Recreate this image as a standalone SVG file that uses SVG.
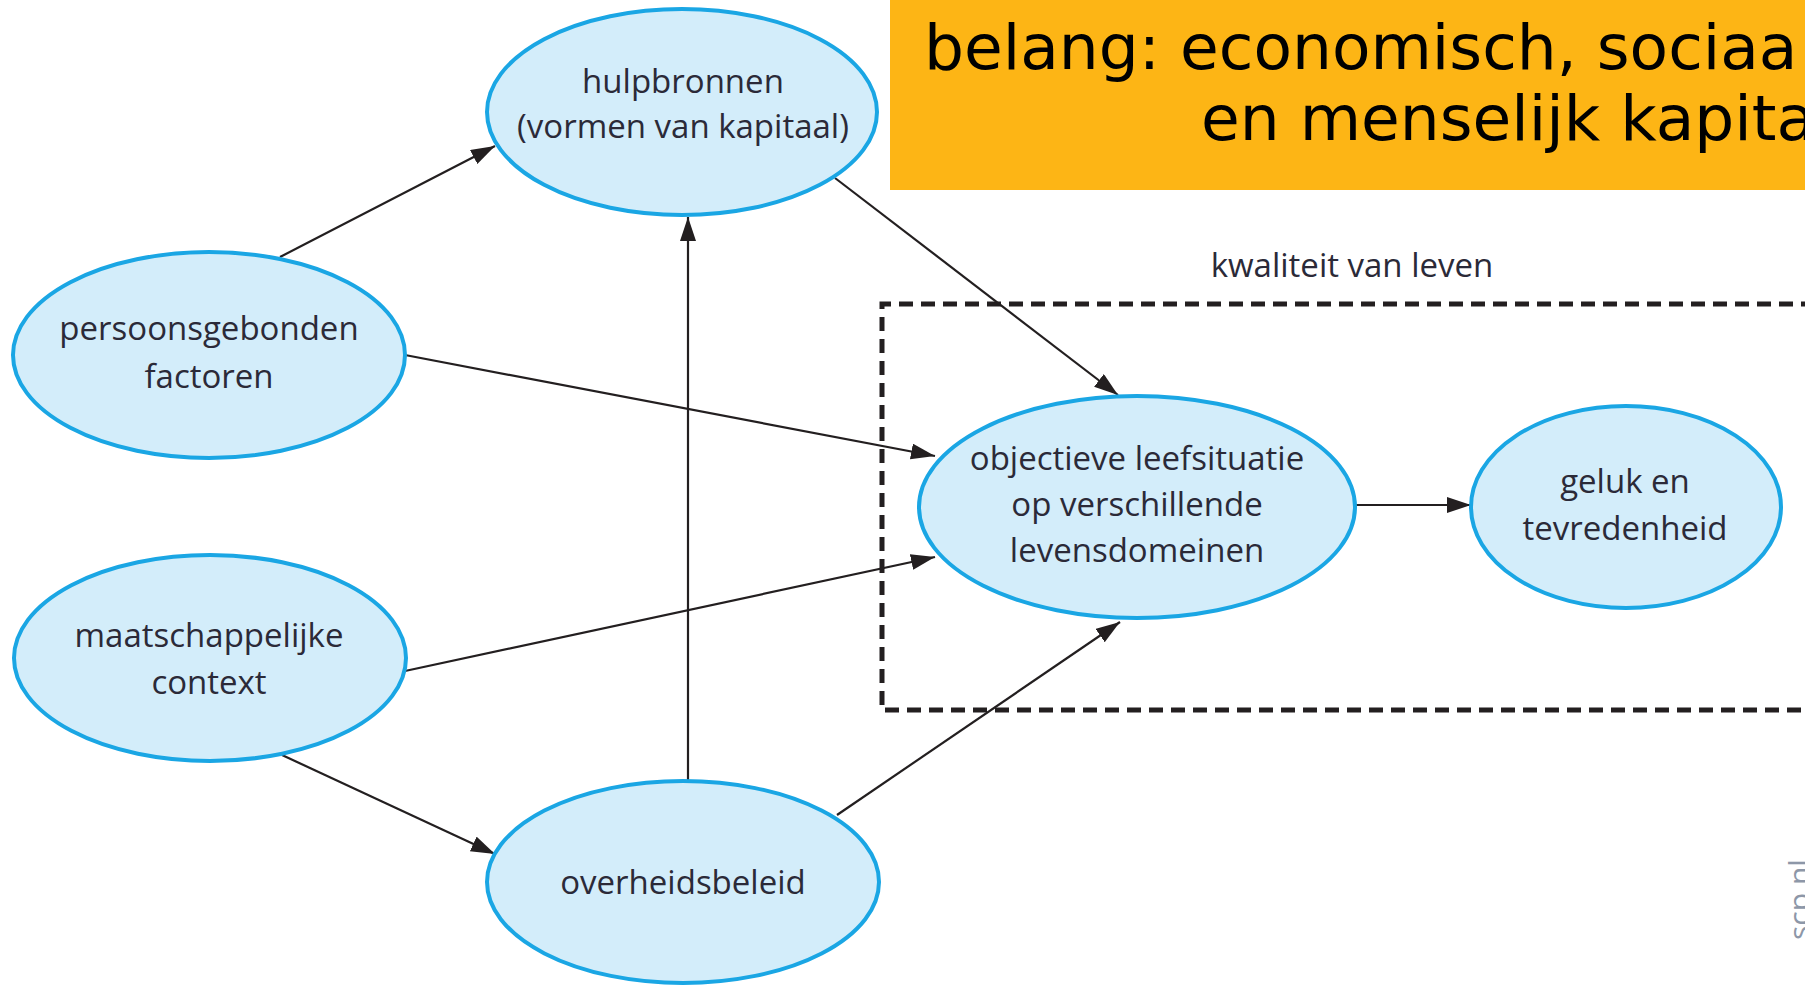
<svg xmlns="http://www.w3.org/2000/svg" width="1805" height="985" viewBox="0 0 1805 985">
<defs>
<style>
.node ellipse{fill:#d3edfa;stroke:#1aa6e4;stroke-width:4}
.lbl{font-family:"Open Sans","Noto Sans",sans-serif;font-size:33px;fill:#2b2a38;text-anchor:middle}
.conn line{stroke:#231f20;stroke-width:2.2}
.banner{font-family:"DejaVu Sans","Liberation Sans",sans-serif;font-size:63px;fill:#000}
</style>
<marker id="ah" markerUnits="userSpaceOnUse" markerWidth="26" markerHeight="18" refX="24" refY="8" orient="auto">
<path d="M0,0 L24,8 L0,16 Z" fill="#231f20"/>
</marker>
</defs>
<rect width="1805" height="985" fill="#fff"/>
<g id="banner">
<rect x="890" y="0" width="920" height="190" fill="#fdb515"/>
<text class="banner" x="924" y="69">belang: economisch, sociaa</text>
<text class="banner" x="1201" y="140">en menselijk kapita</text>
</g>
<g id="kwaliteit-frame">
<path d="M1815,304 H882 V710 H1815" fill="none" stroke="#231f20" stroke-width="5" stroke-dasharray="14 8"/>
<text class="lbl" x="1352" y="277">kwaliteit van leven</text>
</g>
<g id="connectors" class="conn">
<line x1="280" y1="257" x2="495" y2="146" marker-end="url(#ah)"/>
<line x1="835" y1="178" x2="1118" y2="395" marker-end="url(#ah)"/>
<line x1="405" y1="355" x2="935" y2="456" marker-end="url(#ah)"/>
<line x1="405" y1="671" x2="935" y2="557" marker-end="url(#ah)"/>
<line x1="282" y1="755" x2="495" y2="854" marker-end="url(#ah)"/>
<line x1="688" y1="781" x2="688" y2="217" marker-end="url(#ah)"/>
<line x1="837" y1="815" x2="1120" y2="622" marker-end="url(#ah)"/>
<line x1="1355" y1="505" x2="1471" y2="505" marker-end="url(#ah)"/>
</g>
<g id="hulpbronnen" class="node">
<ellipse cx="682" cy="112" rx="195" ry="103"/>
<text class="lbl" x="683" y="93">hulpbronnen</text>
<text class="lbl" x="683" y="138">(vormen van kapitaal)</text>
</g>
<g id="persoonsgebonden" class="node">
<ellipse cx="209" cy="355" rx="196" ry="103"/>
<text class="lbl" x="209" y="340">persoonsgebonden</text>
<text class="lbl" x="209" y="388">factoren</text>
</g>
<g id="maatschappelijke" class="node">
<ellipse cx="210" cy="658" rx="196" ry="103"/>
<text class="lbl" x="209" y="647">maatschappelijke</text>
<text class="lbl" x="209" y="694">context</text>
</g>
<g id="overheidsbeleid" class="node">
<ellipse cx="683" cy="882" rx="196" ry="101"/>
<text class="lbl" x="683" y="894">overheidsbeleid</text>
</g>
<g id="objectieve" class="node">
<ellipse cx="1137" cy="507" rx="218" ry="111"/>
<text class="lbl" x="1137" y="470">objectieve leefsituatie</text>
<text class="lbl" x="1137" y="516">op verschillende</text>
<text class="lbl" x="1137" y="562">levensdomeinen</text>
</g>
<g id="geluk" class="node">
<ellipse cx="1626" cy="507" rx="155" ry="101"/>
<text class="lbl" x="1625" y="493">geluk en</text>
<text class="lbl" x="1625" y="540">tevredenheid</text>
</g>
<text x="1810" y="940" transform="rotate(-90 1810 940)" font-family="Open Sans, sans-serif" font-size="30" fill="#8d97a8">scp.nl</text>
</svg>
